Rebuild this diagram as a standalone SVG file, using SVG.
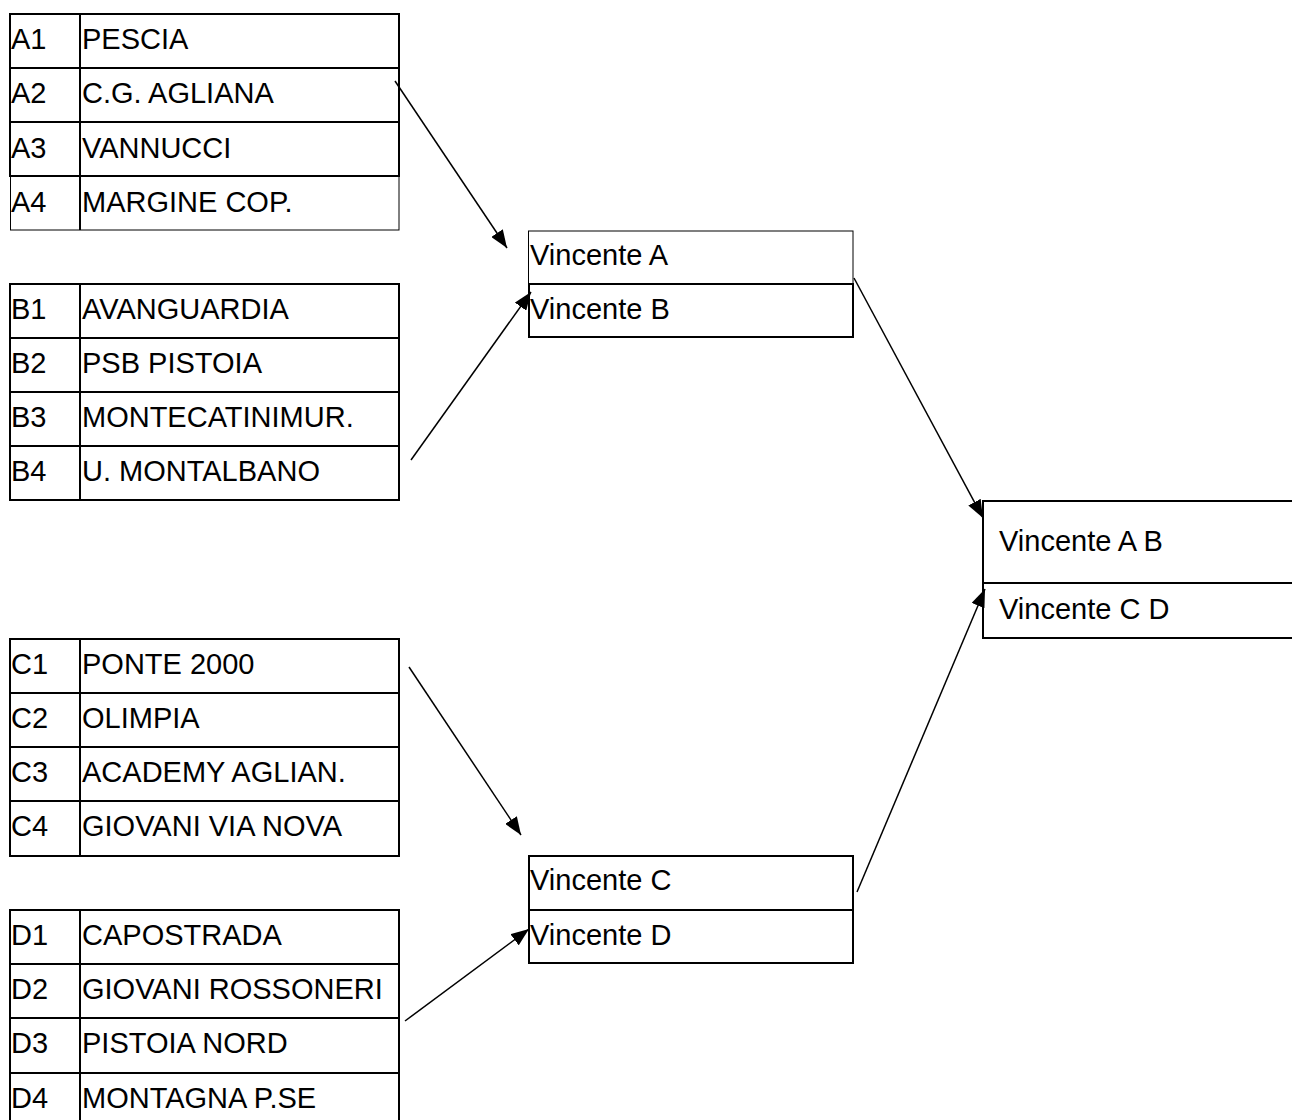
<svg xmlns="http://www.w3.org/2000/svg" width="1292" height="1120" viewBox="0 0 1292 1120">
<style>
text{font-family:"Liberation Sans",Arial,sans-serif;font-size:29px;fill:#000}
.b{fill:none;stroke:#000;stroke-width:2}
.t{fill:none;stroke:#000;stroke-width:1}
.c{fill:none;stroke:#000;stroke-width:1.5}
</style>
<defs>
<marker id="ah" markerUnits="userSpaceOnUse" markerWidth="20" markerHeight="14" viewBox="0 0 20 14" refX="18" refY="7" orient="auto">
<path d="M0,0 L18,7 L0,14 Z" fill="#000"/>
</marker>
</defs>
<rect width="1292" height="1120" fill="#fff"/>
<g id="groupA">
<rect class="b" x="10" y="14" width="389" height="162"/>
<line class="b" x1="10" y1="68" x2="399" y2="68"/>
<line class="b" x1="10" y1="122" x2="399" y2="122"/>
<line class="b" x1="80" y1="14" x2="80" y2="230"/>
<rect class="t" x="10.5" y="176" width="388.5" height="54"/>
<text x="11" y="49">A1</text><text x="82" y="49">PESCIA</text>
<text x="11" y="103">A2</text><text x="82" y="103">C.G. AGLIANA</text>
<text x="11" y="158">A3</text><text x="82" y="158">VANNUCCI</text>
<text x="11" y="212">A4</text><text x="82" y="212">MARGINE COP.</text>
</g>
<g id="groupB">
<rect class="b" x="10" y="284" width="389" height="216"/>
<line class="b" x1="10" y1="338" x2="399" y2="338"/>
<line class="b" x1="10" y1="392" x2="399" y2="392"/>
<line class="b" x1="10" y1="446" x2="399" y2="446"/>
<line class="b" x1="80" y1="284" x2="80" y2="500"/>
<text x="11" y="319">B1</text><text x="82" y="319">AVANGUARDIA</text>
<text x="11" y="373">B2</text><text x="82" y="373">PSB PISTOIA</text>
<text x="11" y="427">B3</text><text x="82" y="427">MONTECATINIMUR.</text>
<text x="11" y="481">B4</text><text x="82" y="481">U. MONTALBANO</text>
</g>
<g id="groupC">
<rect class="b" x="10" y="639" width="389" height="217"/>
<line class="b" x1="10" y1="693" x2="399" y2="693"/>
<line class="b" x1="10" y1="747" x2="399" y2="747"/>
<line class="b" x1="10" y1="801" x2="399" y2="801"/>
<line class="b" x1="80" y1="639" x2="80" y2="856"/>
<text x="11" y="674">C1</text><text x="82" y="674">PONTE 2000</text>
<text x="11" y="728">C2</text><text x="82" y="728">OLIMPIA</text>
<text x="11" y="782">C3</text><text x="82" y="782">ACADEMY AGLIAN.</text>
<text x="11" y="836">C4</text><text x="82" y="836">GIOVANI VIA NOVA</text>
</g>
<g id="groupD">
<rect class="b" x="10" y="910" width="389" height="220"/>
<line class="b" x1="10" y1="964" x2="399" y2="964"/>
<line class="b" x1="10" y1="1018" x2="399" y2="1018"/>
<line class="b" x1="10" y1="1073" x2="399" y2="1073"/>
<line class="b" x1="80" y1="910" x2="80" y2="1130"/>
<text x="11" y="945">D1</text><text x="82" y="945">CAPOSTRADA</text>
<text x="11" y="999">D2</text><text x="82" y="999">GIOVANI ROSSONERI</text>
<text x="11" y="1053">D3</text><text x="82" y="1053">PISTOIA NORD</text>
<text x="11" y="1108">D4</text><text x="82" y="1108">MONTAGNA P.SE</text>
</g>
<g id="semiAB">
<rect class="t" x="528.5" y="231" width="324.5" height="53"/>
<rect class="b" x="529" y="284" width="324" height="53"/>
<text x="530" y="265">Vincente A</text>
<text x="530" y="319">Vincente B</text>
</g>
<g id="semiCD">
<rect class="b" x="529" y="856" width="324" height="107"/>
<line class="b" x1="529" y1="910" x2="853" y2="910"/>
<text x="530" y="890">Vincente C</text>
<text x="530" y="945">Vincente D</text>
</g>
<g id="finale">
<rect class="b" x="983" y="501" width="320" height="137"/>
<line class="b" x1="983" y1="583" x2="1303" y2="583"/>
<text x="999" y="551">Vincente A B</text>
<text x="999" y="619">Vincente C D</text>
</g>
<g id="connectors">
<line class="c" x1="395" y1="81" x2="507" y2="248" marker-end="url(#ah)"/>
<line class="c" x1="411" y1="460" x2="531" y2="292" marker-end="url(#ah)"/>
<line class="c" x1="854" y1="278" x2="983" y2="518" marker-end="url(#ah)"/>
<line class="c" x1="409" y1="667" x2="521" y2="835" marker-end="url(#ah)"/>
<line class="c" x1="405" y1="1021" x2="529" y2="929" marker-end="url(#ah)"/>
<line class="c" x1="857" y1="892" x2="985" y2="589" marker-end="url(#ah)"/>
</g>
</svg>
